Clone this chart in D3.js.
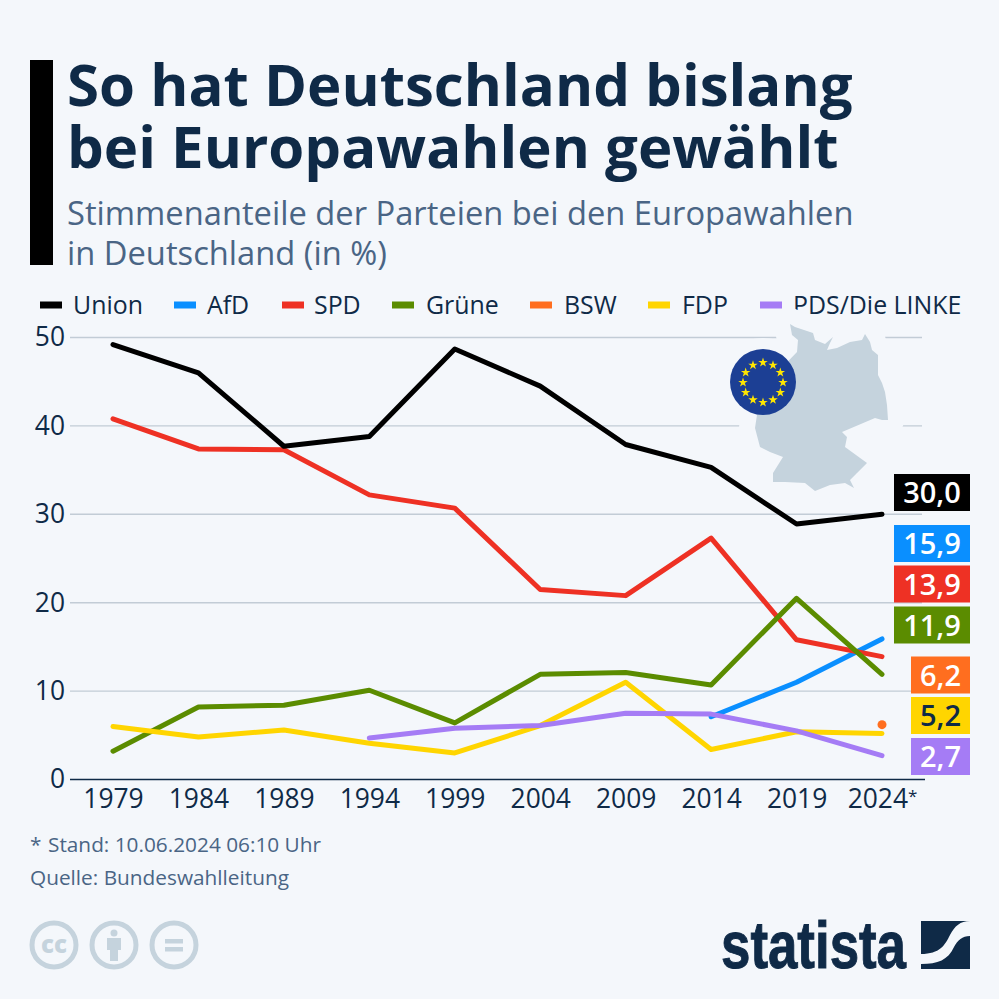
<!DOCTYPE html>
<html>
<head>
<meta charset="utf-8">
<style>
  html, body { margin: 0; padding: 0; background: #f4f7fb; }
  svg { display: block; font-family: "Open Sans", sans-serif; }
  .domain { display: none; }
  .tick line { display: none; }
  .tick text { font-size: 26.4px; fill: #0f2a47; font-family: "Open Sans", sans-serif; }
</style>
</head>
<body>
<div id="viz"></div>
<script src="https://d3js.org/d3.v7.min.js"></script>
<script>
// values
var years = ["1979", "1984", "1989", "1994", "1999", "2004", "2009", "2014", "2019", "2024"];
var union = [49.2, 46.0, 37.7, 38.8, 48.7, 44.5, 37.9, 35.3, 28.9, 30.0];
var afd = [null, null, null, null, null, null, null, 7.1, 11.0, 15.9];
var spd = [40.8, 37.4, 37.3, 32.2, 30.7, 21.5, 20.8, 27.3, 15.8, 13.9];
var gruene = [3.2, 8.2, 8.4, 10.1, 6.4, 11.9, 12.1, 10.7, 20.5, 11.9];
var bsw = [null, null, null, null, null, null, null, null, null, 6.2];
var fdp = [6.0, 4.8, 5.6, 4.1, 3.0, 6.1, 11.0, 3.4, 5.4, 5.2];
var linke = [null, null, null, 4.7, 5.8, 6.1, 7.5, 7.4, 5.5, 2.7];
var yTicks = [0, 10, 20, 30, 40, 50];

var partyNames = ["Union", "AfD", "SPD", "Grüne", "BSW", "FDP", "PDS/Die LINKE"];
var partyValues = [union, afd, spd, gruene, bsw, fdp, linke];
var partyColors = ["#000000", "#0a8fff", "#ee3124", "#5b8c00", "#ff6e1f", "#ffd500", "#a57cf5"];
var labelColors = ["#ffffff", "#ffffff", "#ffffff", "#ffffff", "#ffffff", "#0f2a47", "#ffffff"];

// layout only
var legendSwatchX = [40, 174, 282, 392, 530, 648, 760];
var legendTextX = [73, 207, 314, 426, 564, 682, 793];
var labelCenterY = [492.5, 543.5, 584, 625, 675, 715.5, 756.5];
var drawOrder = [1, 2, 3, 0, 5, 6];

var bg = "#f4f7fb", navy = "#0f2a47", slate = "#4a6585", pale = "#c5d3dd";

var svg = d3.select("#viz").append("svg").attr("width", 999).attr("height", 999);
svg.append("rect").attr("width", 999).attr("height", 999).attr("fill", bg);

// header
svg.append("rect").attr("x", 30).attr("y", 60).attr("width", 23).attr("height", 205).attr("fill", "#000");
svg.selectAll(".title").data(["So hat Deutschland bislang", "bei Europawahlen gewählt"]).enter().append("text")
  .attr("x", 67).attr("y", function(d, i) { return 106 + i * 62; })
  .attr("font-size", 58.2).attr("font-weight", 700).attr("fill", navy).text(function(d) { return d; });
svg.selectAll(".sub").data(["Stimmenanteile der Parteien bei den Europawahlen", "in Deutschland (in %)"]).enter().append("text")
  .attr("x", 67).attr("y", function(d, i) { return 225 + i * 40; })
  .attr("font-size", 32.7).attr("fill", slate).text(function(d) { return d; });

// legend
partyNames.forEach(function(name, i) {
  svg.append("line").attr("x1", legendSwatchX[i]).attr("x2", legendSwatchX[i] + 22)
    .attr("y1", 305).attr("y2", 305).attr("stroke", partyColors[i]).attr("stroke-width", 7);
  svg.append("text").attr("x", legendTextX[i]).attr("y", 314)
    .attr("font-size", 24.9).attr("fill", navy).text(name);
});

// scales and axes
var x = d3.scalePoint().domain(years).range([113, 882]);
var y = d3.scaleLinear().domain([0, 50]).range([779.5, 337.5]);

svg.selectAll(".grid").data(yTicks.slice(1)).enter().append("line")
  .attr("x1", 70).attr("x2", 922)
  .attr("y1", function(d) { return y(d); }).attr("y2", function(d) { return y(d); })
  .attr("stroke", "#c2ccd6").attr("stroke-width", 1.4);
svg.append("line").attr("x1", 70).attr("x2", 925).attr("y1", y(0)).attr("y2", y(0))
  .attr("stroke", navy).attr("stroke-width", 1.5);

svg.append("g").attr("transform", "translate(70,0)")
  .call(d3.axisLeft(y).tickValues(yTicks).tickSize(0).tickPadding(5));
var xAxis = svg.append("g").attr("transform", "translate(0," + y(0) + ")")
  .call(d3.axisBottom(x).tickSize(0).tickPadding(10));
// the last year carries the footnote mark
xAxis.selectAll(".tick text").filter(function(d) { return d === "2024"; })
  .append("tspan").attr("font-size", 17).attr("dy", -6).text("*");

// Germany silhouette, with a halo that cuts the grid lines
var germany = [[790,324],[795,327],[813,333],[815,340],[825,344],[833,337],[830,343],[827,350],[837,348],[850,342],[862,340],[865,334],[870,342],[872,350],[878,355],[878,375],[882,383],[885,392],[887,405],[888,420],[882,420],[875,418],[842,432],[847,437],[845,447],[867,463],[857,473],[850,480],[854,488],[845,483],[830,485],[815,491],[805,483],[785,482],[773,482],[773,473],[783,457],[770,452],[760,447],[755,428],[757,415],[770,380],[797,352],[798,340],[792,335]];
var mapPath = d3.line().curve(d3.curveLinearClosed)(germany);
svg.append("path").attr("d", mapPath).attr("fill", bg).attr("stroke", bg).attr("stroke-width", 32).attr("stroke-linejoin", "round");
svg.append("circle").attr("cx", 763).attr("cy", 382).attr("r", 44).attr("fill", bg);
svg.append("path").attr("d", mapPath).attr("fill", pale);

// EU flag
svg.append("circle").attr("cx", 763).attr("cy", 382).attr("r", 33).attr("fill", "#1c3f94");
d3.range(12).forEach(function(i) {
  var a = i * Math.PI / 6;
  svg.append("path").attr("d", d3.symbol(d3.symbolStar, 28)())
    .attr("transform", "translate(" + (763 + 20 * Math.sin(a)) + "," + (382.5 - 20 * Math.cos(a)) + ")")
    .attr("fill", "#ffe600");
});

// series
var line = d3.line()
  .defined(function(d) { return d != null; })
  .x(function(d, i) { return x(years[i]); })
  .y(function(d) { return y(d); });
drawOrder.forEach(function(p) {
  svg.append("path").attr("d", line(partyValues[p])).attr("fill", "none")
    .attr("stroke", partyColors[p]).attr("stroke-width", 5)
    .attr("stroke-linecap", "round").attr("stroke-linejoin", "round");
});
svg.append("circle").attr("cx", x("2024")).attr("cy", y(bsw[9])).attr("r", 4.5).attr("fill", partyColors[4]);

// end labels
partyNames.forEach(function(name, i) {
  var v = partyValues[i][9];
  var w = v >= 10 ? 76 : 59;
  svg.append("rect").attr("x", 970 - w).attr("y", labelCenterY[i] - 18.5).attr("width", w).attr("height", 37)
    .attr("fill", partyColors[i]);
  svg.append("text").attr("x", 970 - w / 2).attr("y", labelCenterY[i] + 10.5).attr("text-anchor", "middle")
    .attr("font-size", 29).attr("font-weight", 600).attr("fill", labelColors[i])
    .text(d3.format(".1f")(v).replace(".", ","));
});

// footnotes
svg.append("text").attr("x", 30).attr("y", 852).attr("font-size", 20.8).attr("fill", slate).text("*");
svg.append("text").attr("x", 48).attr("y", 852).attr("font-size", 20.8).attr("fill", slate).text("Stand: 10.06.2024 06:10 Uhr");
svg.append("text").attr("x", 30).attr("y", 885).attr("font-size", 20.8).attr("fill", slate).text("Quelle: Bundeswahlleitung");

// licence icons
[54, 114, 174].forEach(function(cx) {
  svg.append("circle").attr("cx", cx).attr("cy", 945).attr("r", 22).attr("fill", "none").attr("stroke", pale).attr("stroke-width", 5);
});
svg.append("text").attr("x", 54).attr("y", 953).attr("text-anchor", "middle").attr("font-size", 24)
  .attr("font-weight", 800).attr("fill", pale).text("cc");
svg.append("circle").attr("cx", 114).attr("cy", 933).attr("r", 3.5).attr("fill", pale);
svg.append("path").attr("fill", pale).attr("d", "M107,938H121V950H118V961H110V950H107Z");
svg.append("rect").attr("x", 165).attr("y", 939).attr("width", 18).attr("height", 4.5).attr("fill", pale);
svg.append("rect").attr("x", 165).attr("y", 947).attr("width", 18).attr("height", 4.5).attr("fill", pale);

// statista logo
svg.append("text").attr("x", 721).attr("y", 968).attr("font-size", 66).attr("font-weight", 700)
  .attr("font-family", "'Liberation Sans Narrow', 'Liberation Sans', sans-serif")
  .attr("textLength", 185).attr("lengthAdjust", "spacingAndGlyphs")
  .attr("fill", navy).attr("stroke", navy).attr("stroke-width", 1).text("statista");
svg.append("rect").attr("x", 921).attr("y", 921).attr("width", 49).attr("height", 48).attr("fill", navy);
svg.append("path").attr("fill", bg)
  .attr("d", "M921,954C940,954 945,945 950,935C955,926 960,921 970,921V936C962,936 958,940 954,947C948,960 938,964 921,964Z");
</script>
</body>
</html>
